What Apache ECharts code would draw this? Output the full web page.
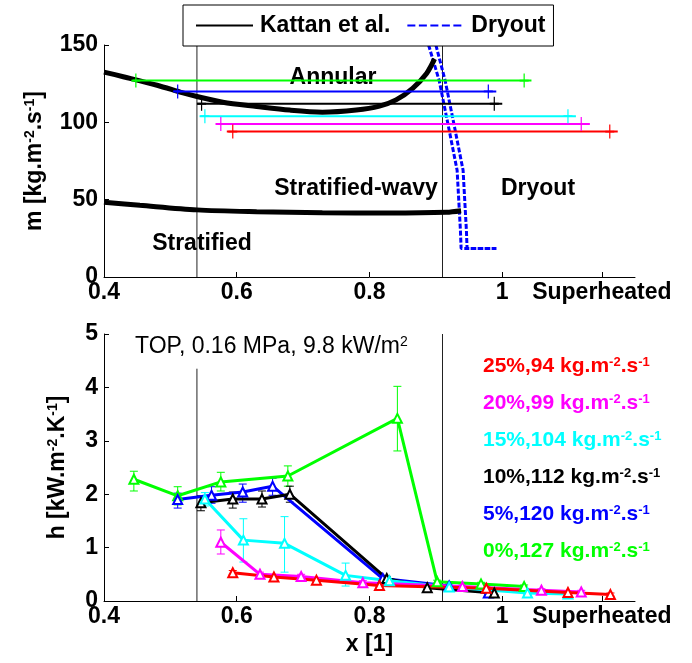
<!DOCTYPE html>
<html><head><meta charset="utf-8">
<script src="https://cdn.jsdelivr.net/npm/echarts@6/dist/echarts.min.js"></script>
<style>html,body{margin:0;padding:0;background:#fff}#c{width:692px;height:663px}</style>
</head><body><div id="c"></div>
<script>
// ---------------- DATA ----------------
const xTickValues = [0.4, 0.6, 0.8, 1.0, 1.15];
const xTickLabels = ['0.4', '0.6', '0.8', '1', 'Superheated'];
const regimeLinesX = [0.54, 0.91];
const regimeLineTopH = [4.35, 5];

// Kattan et al. flow pattern transition curves (x [1], m [kg/m2s])
const kattanUpperX = [0.4, 0.429, 0.48, 0.519, 0.54, 0.579, 0.63, 0.68, 0.729, 0.78, 0.815, 0.84, 0.865, 0.886, 0.898];
const kattanUpperM = [132.5, 129.5, 124, 119, 116.7, 113, 110.3, 107.9, 106.6, 108, 110.5, 114.5, 122, 131.6, 141];
const kattanLowerX = [0.4, 0.454, 0.54, 0.63, 0.729, 0.83, 0.916, 0.938];
const kattanLowerM = [48.4, 46.4, 43.4, 42.2, 41.5, 41.3, 41.8, 42.8];
// Dryout curves
const dryoutAX = [0.889, 0.905, 0.920, 0.932, 0.937, 0.938, 0.991];
const dryoutAM = [150, 127, 95, 69, 30, 18.5, 18.5];
const dryoutBX = [0.900, 0.914, 0.929, 0.941, 0.946, 0.947, 0.991];
const dryoutBM = [150, 127, 95, 69, 30, 18.5, 18.5];

// Test cases (order: 25%, 20%, 15%, 10%, 5%, 0%)
const caseLabels = ['25%,94', '20%,99', '15%,104', '10%,112', '5%,120', '0%,127'];
const caseColors = ['#ff0000', '#ff00ff', '#00ffff', '#000000', '#0000ff', '#00ff00'];
const caseMassFlux = [94, 99, 104, 112, 120, 127];
const rangeLineStart = [0.585, 0.568, 0.544, 0.540, 0.505, 0.443];
const rangeXmin = [0.594, 0.576, 0.552, 0.547, 0.511, 0.448];
const rangeXmax = [1.162, 1.119, 1.099, 0.988, 0.979, 1.033];
const rangeLineEnd = [1.174, 1.132, 1.111, 1.000, 0.991, 1.044];

// Heat transfer coefficient [x, h, hLow, hHigh]
const hRed = [[0.594,0.53,0.50,0.57],[0.656,0.45,0.42,0.48],[0.720,0.39,0.36,0.42],[0.815,0.29,0.26,0.32],[0.976,0.24,0.21,0.27],[1.099,0.16,0.13,0.19],[1.163,0.12,0.09,0.15]];
const hMagenta = [[0.576,1.10,0.88,1.33],[0.635,0.50,0.46,0.54],[0.697,0.46,0.42,0.50],[0.790,0.34,0.30,0.38],[0.940,0.27,0.24,0.30],[1.059,0.20,0.17,0.23],[1.119,0.17,0.14,0.20]];
const hCyan = [[0.552,1.91,1.78,2.03],[0.610,1.14,0.73,1.54],[0.672,1.08,0.54,1.58],[0.764,0.48,0.28,0.71],[0.830,0.38,0.34,0.42],[0.920,0.26,0.22,0.30],[1.038,0.15,0.12,0.18],[1.099,0.13,0.10,0.16]];
const hBlack = [[0.546,1.84,1.69,1.97],[0.594,1.91,1.74,2.04],[0.638,1.91,1.76,2.06],[0.680,2.00,1.85,2.15],[0.826,0.42,0.38,0.46],[0.887,0.25,0.21,0.29],[0.988,0.15,0.12,0.18]];
const hBlue = [[0.511,1.90,1.74,2.02],[0.562,1.98,1.83,2.14],[0.609,2.04,1.85,2.19],[0.654,2.15,1.98,2.30],[0.820,0.42,0.38,0.46],[0.920,0.28,0.24,0.32],[0.979,0.15,0.12,0.18]];
const hGreen = [[0.445,2.28,2.06,2.43],[0.511,1.97,1.80,2.14],[0.576,2.23,2.06,2.41],[0.677,2.34,2.15,2.53],[0.842,3.42,2.81,4.02],[0.902,0.36,0.33,0.39],[0.968,0.32,0.29,0.35],[1.033,0.27,0.24,0.30]];
const hCases = [hRed, hMagenta, hCyan, hBlack, hBlue, hGreen];

const titleText = 'TOP, 0.16 MPa, 9.8 kW/m';
// ---------------- CHART ----------------
const FONT = '"Liberation Sans", Arial, Helvetica, sans-serif';
const zip = (xs, ys) => xs.map((x, i) => [x, ys[i]]);
const labelFor = v => { const i = xTickValues.findIndex(t => Math.abs(t - v) < 1e-6); return i >= 0 ? xTickLabels[i] : ''; };
const PLUS = 'path://M5,0L5,10M0,5L10,5';

const xAxisBase = (gi) => ({
  type: 'value', gridIndex: gi, min: 0.4, max: 1.2,
  axisLine: { show: true, onZero: false, lineStyle: { color: '#000', width: 1 } },
  axisTick: { show: true, inside: true, length: 5, customValues: xTickValues, lineStyle: { color: '#000', width: 1 } },
  axisLabel: { customValues: xTickValues, formatter: labelFor, color: '#000', fontSize: 23, fontWeight: 'bold', fontFamily: FONT, margin: 4 },
  splitLine: { show: false }
});
const supRich = (size, sup) => ({
  a: { fontSize: size, fontWeight: 'bold', fontFamily: FONT, color: '#000' },
  s: { fontSize: sup, fontWeight: 'bold', fontFamily: FONT, color: '#000', verticalAlign: 'top' }
});
const yAxisBase = (gi, max, interval, name, gap) => ({
  type: 'value', gridIndex: gi, min: 0, max: max, interval: interval,
  axisLine: { show: true, onZero: false, lineStyle: { color: '#000', width: 1 } },
  axisTick: { show: true, inside: true, length: 5, lineStyle: { color: '#000' } },
  axisLabel: { color: '#000', fontSize: 23, fontWeight: 'bold', fontFamily: FONT, margin: 6 },
  splitLine: { show: false },
  name: name, nameLocation: 'middle', nameRotate: 90, nameGap: gap,
  nameTextStyle: { rich: supRich(23, 14) }
});

const series = [];
// --- top plot ---
regimeLinesX.forEach(x => series.push({ type: 'line', xAxisIndex: 0, yAxisIndex: 0, data: [[x, 0], [x, 150]], symbol: 'none', silent: true, lineStyle: { color: '#222', width: 1 }, z: 1 }));
[[dryoutAX, dryoutAM], [dryoutBX, dryoutBM]].forEach(([xs, ms]) => series.push({
  name: 'Dryout', type: 'line', xAxisIndex: 0, yAxisIndex: 0, data: zip(xs, ms), symbol: 'none',
  lineStyle: { color: '#0000ff', width: 3, type: [5, 2] }, itemStyle: { color: '#0000ff' }, z: 2
}));
[[kattanUpperX, kattanUpperM], [kattanLowerX, kattanLowerM]].forEach(([xs, ms]) => series.push({
  name: 'Kattan et al.', type: 'line', xAxisIndex: 0, yAxisIndex: 0, data: zip(xs, ms), symbol: 'none', smooth: 0.3,
  lineStyle: { color: '#000', width: 5 }, itemStyle: { color: '#000' }, z: 3
}));
caseLabels.forEach((lab, i) => {
  const m = caseMassFlux[i], c = caseColors[i];
  series.push({
    type: 'line', xAxisIndex: 0, yAxisIndex: 0, z: 4,
    data: [
      { value: [rangeLineStart[i], m], symbol: 'none' },
      { value: [rangeXmin[i], m] },
      { value: [rangeXmax[i], m] },
      { value: [rangeLineEnd[i], m], symbol: 'none' }
    ],
    symbol: PLUS, symbolSize: [9, 14], symbolKeepAspect: false,
    itemStyle: { color: c, borderColor: c, borderWidth: 1.5 },
    lineStyle: { color: c, width: 2 }
  });
});
// --- bottom plot ---
regimeLinesX.forEach((x, k) => series.push({ type: 'line', xAxisIndex: 1, yAxisIndex: 1, data: [[x, 0], [x, regimeLineTopH[k]]], symbol: 'none', silent: true, lineStyle: { color: '#222', width: 1 }, z: 1 }));
for (let i = caseLabels.length - 1; i >= 0; i--) {
  const c = caseColors[i], d = hCases[i];
  series.push({
    type: 'custom', xAxisIndex: 1, yAxisIndex: 1, data: d, z: 3,
    renderItem: (params, api) => {
      const x = api.value(0);
      const t = api.coord([x, api.value(3)]), b = api.coord([x, api.value(2)]);
      const w = 4, st = { stroke: c, lineWidth: 1 };
      return { type: 'group', children: [
        { type: 'line', shape: { x1: t[0], y1: t[1], x2: b[0], y2: b[1] }, style: st },
        { type: 'line', shape: { x1: t[0] - w, y1: t[1], x2: t[0] + w, y2: t[1] }, style: st },
        { type: 'line', shape: { x1: b[0] - w, y1: b[1], x2: b[0] + w, y2: b[1] }, style: st }
      ]};
    }
  });
  series.push({
    type: 'line', xAxisIndex: 1, yAxisIndex: 1, z: 3,
    data: d.map(r => [r[0], r[1]]),
    symbol: 'emptyTriangle', symbolSize: 9,
    itemStyle: { color: c, borderColor: c, borderWidth: 1 },
    lineStyle: { color: c, width: 3 }
  });
}

const graphics = [
  { type: 'text', x: 333, y: 78, style: { text: 'Annular', font: 'bold 23px ' + FONT, fill: '#000', align: 'center', verticalAlign: 'middle' } },
  { type: 'text', x: 356, y: 189, style: { text: 'Stratified-wavy', font: 'bold 23px ' + FONT, fill: '#000', align: 'center', verticalAlign: 'middle' } },
  { type: 'text', x: 538, y: 189, style: { text: 'Dryout', font: 'bold 23px ' + FONT, fill: '#000', align: 'center', verticalAlign: 'middle' } },
  { type: 'text', x: 202, y: 244, style: { text: 'Stratified', font: 'bold 23px ' + FONT, fill: '#000', align: 'center', verticalAlign: 'middle' } },
  { type: 'text', x: 135, y: 347, style: {
      text: '{a|' + titleText + '}{s|2}', align: 'left', verticalAlign: 'middle',
      rich: { a: { fontSize: 23, fontFamily: FONT, fill: '#000' }, s: { fontSize: 14, fontFamily: FONT, fill: '#000', verticalAlign: 'top' } } } }
];
caseLabels.forEach((lab, i) => {
  const c = caseColors[i];
  graphics.push({ type: 'text', x: 483, y: 366 + i * 37, style: {
    text: '{a|' + lab + ' kg.m}{s|-2}{a|.s}{s|-1}', align: 'left', verticalAlign: 'middle',
    rich: { a: { fontSize: 21, fontWeight: 'bold', fontFamily: FONT, fill: c }, s: { fontSize: 13, fontWeight: 'bold', fontFamily: FONT, fill: c, verticalAlign: 'top' } } } });
});

const option = {
  animation: false,
  backgroundColor: '#fff',
  legend: {
    data: [
      { name: 'Kattan et al.', lineStyle: { width: 2, type: 'solid', color: '#000' }, itemStyle: { opacity: 0 } },
      { name: 'Dryout', lineStyle: { width: 2, type: [8, 3.5], color: '#0000ff' }, itemStyle: { opacity: 0 } }
    ],
    left: 183, top: 5, orient: 'horizontal', itemWidth: 57, itemHeight: 22, itemGap: 16,
    padding: [9, 8, 9, 12], borderColor: '#000', borderWidth: 1, backgroundColor: '#fff', borderRadius: 0,
    selectedMode: false, z: 10,
    textStyle: { fontSize: 23, fontWeight: 'bold', fontFamily: FONT, color: '#000', padding: [0, 0, 0, 2] }
  },
  grid: [
    { left: 104, top: 45, width: 531, height: 232, outerBoundsMode: 'none' },
    { left: 104, top: 334, width: 531, height: 267, outerBoundsMode: 'none' }
  ],
  xAxis: [
    xAxisBase(0),
    Object.assign(xAxisBase(1), { name: 'x [1]', nameLocation: 'middle', nameGap: 32,
      nameTextStyle: { fontSize: 23, fontWeight: 'bold', fontFamily: FONT, color: '#000' } })
  ],
  yAxis: [
    yAxisBase(0, 150, 50, '{a|m [kg.m}{s|-2}{a|.s}{s|-1}{a|]}', 58),
    yAxisBase(1, 5, 1, '{a|h [kW.m}{s|-2}{a|.K}{s|-1}{a|]}', 35)
  ],
  graphic: graphics,
  series: series
};
const chart = echarts.init(document.getElementById('c'), null, { renderer: 'canvas' });
chart.setOption(option);
</script></body></html>
